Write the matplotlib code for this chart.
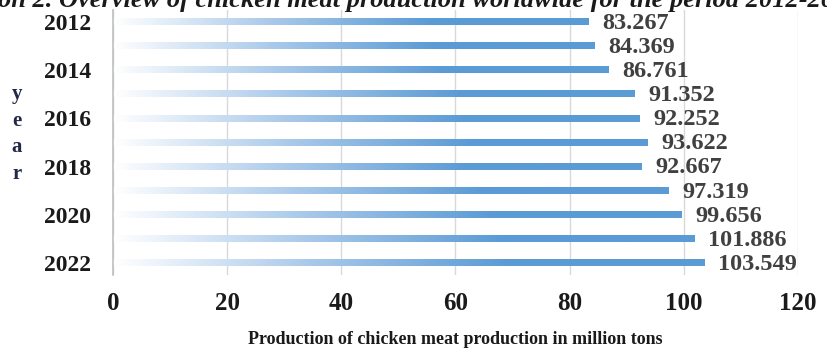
import matplotlib
matplotlib.use("Agg")
import matplotlib.pyplot as plt
import numpy as np
from matplotlib.colors import LinearSegmentedColormap

years = ["2012", "2013", "2014", "2015", "2016", "2017", "2018", "2019", "2020", "2021", "2022"]
values = [83.267, 84.369, 86.761, 91.352, 92.252, 93.622, 92.667, 97.319, 99.656, 101.886, 103.549]
tick_labels = ["2012", "", "2014", "", "2016", "", "2018", "", "2020", "", "2022"]
x_ticks = [0, 20, 40, 60, 80, 100, 120]

title = "on 2. Overview of chicken meat production worldwide for the period 2012-2022"
xlabel = "Production of chicken meat production in million tons"
ylabel = "y\ne\na\nr"

plt.rcParams['font.family'] = ['Liberation Serif', 'DejaVu Serif']

fig = plt.figure(figsize=(8.28, 3.51), dpi=100)
ax = fig.add_axes([113/828, 1 - 275/351, (798 - 113)/828, (275 - 10)/351])

cmap = LinearSegmentedColormap.from_list("g", ["#ffffff", "#a9c9ea", "#5b9bd5", "#5b9bd5"])
grad = np.linspace(0, 1, 256).reshape(1, -1)
h = 0.26
for i, v in enumerate(values):
    ax.imshow(grad, cmap=cmap, aspect='auto', extent=(0, v, i + h/2, i - h/2),
              interpolation='bilinear', zorder=2)
    ax.annotate(f"{v:.3f}", xy=(v, i), xytext=(10, -1), textcoords='offset points',
                ha='left', va='center', fontsize=17.5, fontweight='bold', color='#404040',
                zorder=3)

ax.set_xlim(0, 120)
ax.set_ylim(len(years) - 0.5, -0.5)
ax.set_yticks(range(len(years)))
ax.set_yticklabels(tick_labels, fontsize=17, fontweight='bold', color='#1a1a1a')
ax.set_xticks(x_ticks)
ax.set_xticklabels([str(t) for t in x_ticks], fontsize=18, fontweight='bold', color='#1a1a1a')
ax.tick_params(axis='y', length=0, pad=16)
ax.tick_params(axis='x', length=0, pad=12)
ax.grid(axis='x', color='#d9d9d9', linewidth=1, zorder=0)
ax.set_axisbelow(True)
for s in ['top', 'right', 'bottom']:
    ax.spines[s].set_visible(False)
ax.spines['left'].set_color('#bfbfbf')
ax.spines['left'].set_linewidth(1.2)

fig.text(17/828, 1 - 134/351, ylabel, ha='center', va='center', fontsize=15,
         fontweight='bold', color='#22284a', linespacing=1.45)
fig.text(0.5 * (113 + 798)/828, 1 - 340/351, xlabel, ha='center', va='center',
         fontsize=13, fontweight='bold', color='#1a1a1a')
fig.text(-2/828, 1 - 7/351, title, ha='left', va='baseline', fontsize=19,
         fontweight='bold', fontstyle='italic', color='#1a1a1a')

fig.savefig("out.png", dpi=100)
